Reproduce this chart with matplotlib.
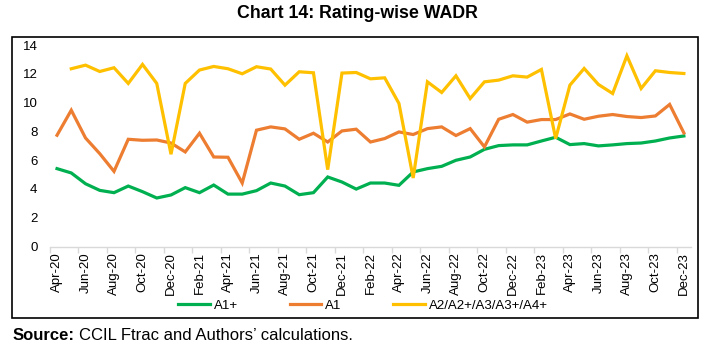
import matplotlib
matplotlib.use("Agg")
import matplotlib.pyplot as plt
import numpy as np
from matplotlib.patches import Rectangle

plt.rcParams['font.family'] = ['Liberation Sans', 'DejaVu Sans']

months = ["Apr-20", "May-20", "Jun-20", "Jul-20", "Aug-20", "Sep-20", "Oct-20", "Nov-20", "Dec-20",
          "Jan-21", "Feb-21", "Mar-21", "Apr-21", "May-21", "Jun-21", "Jul-21", "Aug-21", "Sep-21",
          "Oct-21", "Nov-21", "Dec-21", "Jan-22", "Feb-22", "Mar-22", "Apr-22", "May-22", "Jun-22",
          "Jul-22", "Aug-22", "Sep-22", "Oct-22", "Nov-22", "Dec-22", "Jan-23", "Feb-23", "Mar-23",
          "Apr-23", "May-23", "Jun-23", "Jul-23", "Aug-23", "Sep-23", "Oct-23", "Nov-23", "Dec-23"]

a1_plus = [5.41, 5.11, 4.36, 3.90, 3.74, 4.20, 3.81, 3.37, 3.58, 4.09, 3.74, 4.27, 3.64, 3.64, 3.88,
           4.41, 4.20, 3.60, 3.74, 4.83, 4.48, 3.99, 4.41, 4.41, 4.25, 5.18, 5.41, 5.57, 5.99, 6.22,
           6.75, 7.01, 7.06, 7.06, 7.33, 7.59, 7.08, 7.15, 6.99, 7.06, 7.15, 7.19, 7.33, 7.54, 7.68]

a1 = [7.73, 9.47, 7.54, 6.45, 5.22, 7.45, 7.38, 7.40, 7.19, 6.57, 7.87, 6.22, 6.20, 4.41, 8.08,
      8.31, 8.17, 7.45, 7.87, 7.26, 8.03, 8.15, 7.26, 7.50, 7.96, 7.78, 8.19, 8.31, 7.71, 8.19,
      6.92, 8.84, 9.17, 8.64, 8.82, 8.82, 9.21, 8.84, 9.05, 9.17, 9.03, 8.96, 9.07, 9.87, 7.89]

a2_group = [np.nan, 12.35, 12.60, 12.16, 12.42, 11.33, 12.65, 11.33, 6.41, 11.33, 12.26, 12.51, 12.35,
            12.00, 12.49, 12.33, 11.21, 12.14, 12.07, 5.34, 12.05, 12.09, 11.65, 11.72, 9.94, 4.76,
            11.44, 10.70, 11.86, 10.28, 11.44, 11.56, 11.86, 11.77, 12.30, 7.50, 11.21, 12.37, 11.26,
            10.63, 13.25, 10.98, 12.21, 12.09, 12.02]

series_names = ["A1+", "A1", "A2/A2+/A3/A3+/A4+"]
colors = ["#00B050", "#ED7D31", "#FFC000"]
yticks = [0, 2, 4, 6, 8, 10, 12, 14]

W, H = 709, 360
fig = plt.figure(figsize=(W / 100, H / 100), dpi=100)
ax = fig.add_axes([49.9 / W, 1 - 246.5 / H, (691 - 49.9) / W, (246.5 - 45) / H])

x = np.arange(len(months))
lines = []
for vals, name, c in zip([a1_plus, a1, a2_group], series_names, colors):
    ln, = ax.plot(x, vals, color=c, lw=2.3, label=name, solid_joinstyle='miter')
    lines.append(ln)

ax.set_xlim(-0.5, len(months) - 0.5)
ax.set_ylim(0, 14)
ax.set_yticks(yticks)
ax.set_yticklabels([str(v) for v in yticks], fontsize=9.5)
ax.set_xticks(x[::2])
ax.set_xticklabels(months[::2], rotation=90, fontsize=9.5)
ax.set_xticks(np.arange(-0.5, len(months), 2), minor=True)
ax.tick_params(axis='x', which='major', length=0, pad=4)
ax.tick_params(axis='x', which='minor', length=4, color='#D9D9D9', width=1)
ax.tick_params(axis='y', length=0, pad=9)
for s in ['top', 'right', 'left']:
    ax.spines[s].set_visible(False)
ax.spines['bottom'].set_color('#D9D9D9')
ax.spines['bottom'].set_linewidth(1)

fig.legend(handles=lines, loc='center', bbox_to_anchor=(363 / W, 1 - 305.7 / H), ncol=3,
           frameon=False, fontsize=9.5, handlelength=2.4, handletextpad=0.3, columnspacing=3.9,
           borderpad=0, borderaxespad=0)

fig.patches.append(Rectangle((12 / W, 1 - 318 / H), (698 - 12) / W, (318 - 37) / H,
                             transform=fig.transFigure, fill=False, edgecolor='black', lw=1.2))

fig.text(357 / W, 1 - 14 / H, "Chart 14: Rating-wise WADR", ha='center', va='center',
         fontsize=12.8, fontweight='bold')

t1 = fig.text(13 / W, 1 - 336 / H, "Source:", ha='left', va='center', fontsize=12, fontweight='bold')
fig.canvas.draw()
bb = t1.get_window_extent(renderer=fig.canvas.get_renderer())
fig.text((bb.x1 + 4) / W, 1 - 336 / H, "CCIL Ftrac and Authors\u2019 calculations.", ha='left', va='center',
         fontsize=12)

fig.savefig("out.png", dpi=100)
